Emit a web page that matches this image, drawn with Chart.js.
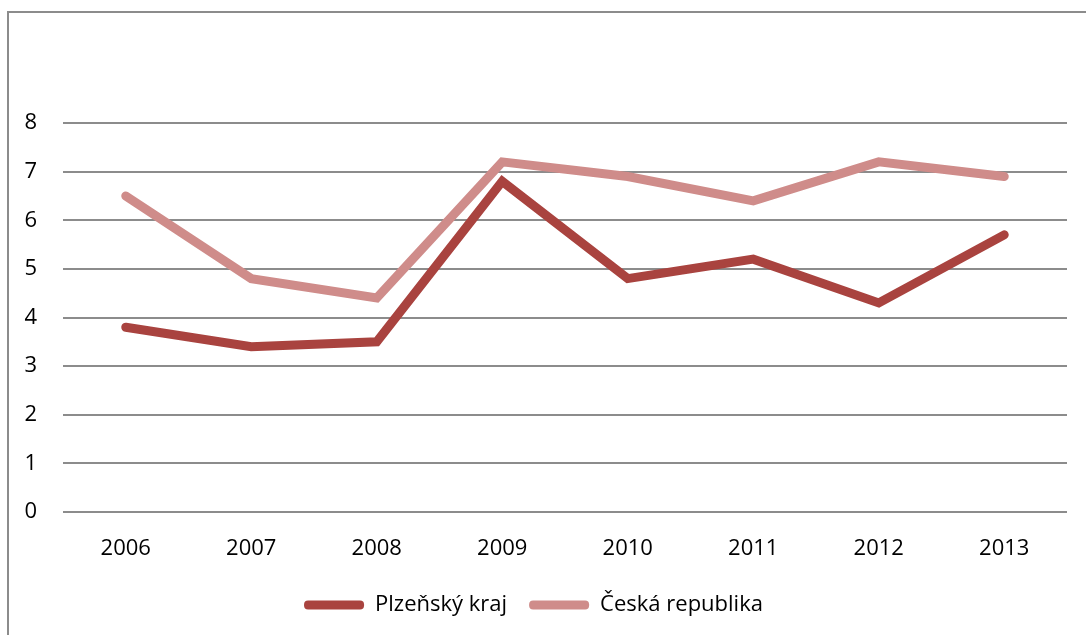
<!DOCTYPE html>
<html>
<head>
<meta charset="utf-8">
<script src="https://cdn.jsdelivr.net/npm/chart.js@4.4.0/dist/chart.umd.min.js"></script>
<style>
    body { margin: 0; background: #fff; }
    #ChartWrapper { position: relative; width: 1086px; height: 635px; overflow: hidden; }
    #Frame { position: absolute; left: 7px; top: 11px; width: 1200px; height: 700px; border: 2px solid #8c8c8c; box-sizing: border-box; }
    #Chart { position: absolute; left: 0; top: 0; }
</style>
</head>
<body>
<div id="ChartWrapper">
    <div id="Frame"></div>
    <canvas id="Chart" width="1086" height="635"></canvas>
</div>
<script>
// roky na ose x
var years = ['2006', '2007', '2008', '2009', '2010', '2011', '2012', '2013'];
// hodnoty pro obě řady
var plzenValues = [3.8, 3.4, 3.5, 6.8, 4.8, 5.2, 4.3, 5.7];
var czValues = [6.5, 4.8, 4.4, 7.2, 6.9, 6.4, 7.2, 6.9];
var seriesNames = ['Plzeňský kraj', 'Česká republika'];

var fontFamily = '"Open Sans", "Noto Sans", sans-serif';

const data = {
    labels: years,
    datasets: [{
        label: seriesNames[0],
        data: plzenValues,
        borderColor: '#a9433f',
        backgroundColor: '#a9433f',
        borderWidth: 9,
        pointRadius: 0,
        borderCapStyle: 'round',
        borderJoinStyle: 'miter'
    }, {
        label: seriesNames[1],
        data: czValues,
        borderColor: '#cf8c8a',
        backgroundColor: '#cf8c8a',
        borderWidth: 9,
        pointRadius: 0,
        borderCapStyle: 'round',
        borderJoinStyle: 'miter'
    }]
};

const config = {
    type: 'line',
    data: data,
    options: {
        responsive: false,
        animation: false,
        layout: {
            padding: { top: 123, right: 19, bottom: 9, left: 0 }
        },
        plugins: {
            legend: {
                position: 'bottom',
                labels: {
                    color: '#000',
                    font: { family: fontFamily, size: 22 },
                    boxWidth: 60,
                    boxHeight: 9,
                    useBorderRadius: true,
                    borderRadius: 4,
                    padding: 22,
                    // bez obrysu, jen plný proužek
                    generateLabels: function (chart) {
                        var items = Chart.defaults.plugins.legend.labels.generateLabels(chart);
                        items.forEach(function (it) { it.lineWidth = 0; });
                        return items;
                    }
                }
            },
            tooltip: { enabled: false }
        },
        scales: {
            x: {
                offset: true,
                grid: { display: false },
                border: { display: false },
                ticks: {
                    color: '#000',
                    padding: 16,
                    font: { family: fontFamily, size: 22 }
                },
                afterFit: function (scale) { scale.height = 60; }
            },
            y: {
                min: 0,
                max: 8,
                grid: { color: '#8c8c8c', lineWidth: 2, drawTicks: false },
                border: { display: false },
                ticks: {
                    stepSize: 1,
                    color: '#000',
                    padding: 26,
                    font: { family: fontFamily, size: 22 }
                },
                afterFit: function (scale) { scale.width = 63; }
            }
        }
    }
};

var myChart = new Chart(document.getElementById('Chart'), config);
</script>
</body>
</html>
